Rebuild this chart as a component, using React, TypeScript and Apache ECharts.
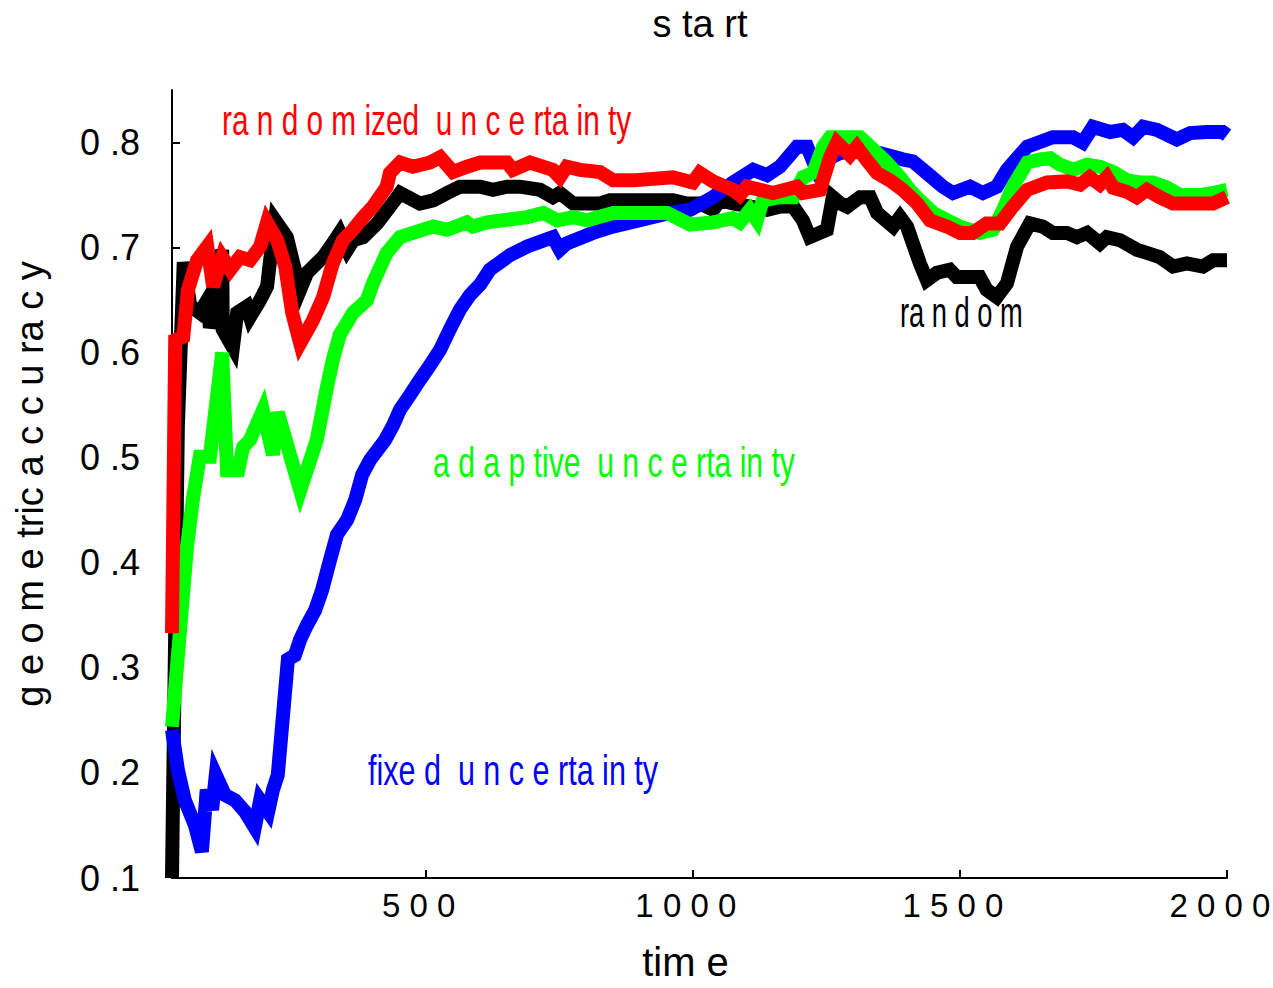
import React, { useEffect, useRef } from "react";
import * as echarts from "echarts";

// ---- data (time, geometric accuracy) ----
const fixedT = [25,36,49,68,81,90,100,107,124,143,162,180,190,205,214,223,237,242,255,265,278,293,306,321,334,353,368,381,396,424,439,452,471,489,508,527,545,564,583,602,620,639,658,690,738,751,764,813,850,901,957,995,1038,1075,1113,1139,1163,1195,1214,1232,1251,1276,1313,1350,1393,1412,1438,1468,1487,1519,1543,1569,1588,1626,1674,1712,1730,1749,1781,1805,1824,1843,1869,1906,1931,1962,1992,2000];
const fixedV = [0.241,0.203,0.174,0.150,0.125,0.184,0.165,0.198,0.179,0.174,0.163,0.148,0.174,0.163,0.184,0.198,0.279,0.308,0.312,0.327,0.341,0.355,0.374,0.403,0.427,0.441,0.460,0.484,0.498,0.517,0.531,0.546,0.560,0.574,0.588,0.603,0.622,0.641,0.655,0.665,0.679,0.686,0.693,0.701,0.710,0.698,0.704,0.714,0.720,0.726,0.733,0.736,0.748,0.762,0.774,0.769,0.777,0.796,0.796,0.774,0.784,0.790,0.793,0.790,0.784,0.782,0.771,0.758,0.752,0.758,0.752,0.758,0.774,0.796,0.805,0.805,0.800,0.815,0.810,0.812,0.805,0.815,0.812,0.803,0.809,0.810,0.810,0.807];

const adaptiveT = [25,40,53,64,77,96,119,128,149,158,171,195,214,223,265,296,315,326,339,364,390,401,427,452,476,514,540,577,588,615,690,720,746,776,802,851,952,995,1038,1075,1088,1107,1120,1131,1163,1188,1206,1225,1244,1257,1313,1332,1363,1388,1406,1425,1450,1476,1500,1537,1562,1581,1599,1626,1650,1669,1687,1712,1738,1762,1787,1813,1837,1861,1888,1912,1949,1974,2000];
const adaptiveV = [0.244,0.336,0.415,0.460,0.501,0.501,0.600,0.488,0.488,0.510,0.517,0.545,0.503,0.543,0.469,0.517,0.567,0.593,0.617,0.638,0.650,0.666,0.695,0.710,0.714,0.720,0.717,0.724,0.720,0.724,0.729,0.733,0.726,0.729,0.726,0.733,0.733,0.722,0.724,0.728,0.724,0.736,0.726,0.745,0.748,0.748,0.767,0.771,0.796,0.805,0.805,0.796,0.781,0.767,0.755,0.745,0.733,0.726,0.720,0.714,0.717,0.736,0.758,0.781,0.784,0.785,0.779,0.774,0.779,0.777,0.772,0.764,0.762,0.762,0.757,0.750,0.750,0.752,0.755];

const randomizedT = [25,31,46,55,72,91,102,119,134,152,171,190,203,222,237,250,265,289,308,326,345,364,383,401,427,433,452,476,508,527,551,577,602,652,663,695,738,751,764,789,826,851,888,963,1000,1013,1038,1075,1088,1101,1126,1150,1195,1206,1238,1257,1270,1294,1307,1326,1345,1369,1393,1420,1444,1476,1500,1524,1550,1575,1599,1626,1663,1700,1725,1743,1762,1775,1787,1813,1831,1850,1874,1899,1974,2000];
const randomizedV = [0.333,0.612,0.615,0.660,0.688,0.701,0.663,0.691,0.679,0.691,0.688,0.701,0.724,0.707,0.682,0.638,0.609,0.631,0.653,0.685,0.707,0.717,0.729,0.739,0.758,0.771,0.781,0.777,0.781,0.786,0.772,0.777,0.781,0.781,0.774,0.781,0.774,0.767,0.777,0.774,0.772,0.764,0.764,0.767,0.762,0.771,0.763,0.755,0.750,0.758,0.755,0.752,0.758,0.752,0.755,0.786,0.800,0.788,0.796,0.783,0.771,0.764,0.755,0.742,0.726,0.720,0.714,0.714,0.723,0.723,0.739,0.755,0.762,0.763,0.760,0.767,0.760,0.767,0.757,0.753,0.748,0.755,0.748,0.742,0.742,0.748];

const randomT = [25,36,47,59,77,91,96,109,119,120,139,147,165,171,190,203,208,218,240,252,265,278,296,308,326,339,353,364,383,409,433,452,489,514,540,564,602,626,652,676,714,738,751,776,826,845,963,989,1013,1038,1051,1075,1139,1163,1188,1206,1219,1251,1262,1276,1289,1313,1332,1345,1375,1388,1401,1425,1438,1457,1481,1494,1537,1550,1569,1588,1607,1631,1655,1674,1700,1719,1738,1762,1775,1800,1831,1850,1874,1899,1925,1955,1974,2000];
const randomV = [0.100,0.531,0.686,0.645,0.638,0.650,0.624,0.647,0.698,0.622,0.605,0.638,0.644,0.634,0.650,0.663,0.685,0.726,0.710,0.685,0.660,0.676,0.685,0.691,0.704,0.714,0.698,0.707,0.710,0.723,0.739,0.752,0.742,0.745,0.752,0.758,0.758,0.755,0.758,0.758,0.755,0.748,0.752,0.742,0.742,0.745,0.745,0.742,0.742,0.736,0.745,0.742,0.736,0.739,0.739,0.726,0.710,0.717,0.748,0.742,0.739,0.748,0.748,0.733,0.720,0.729,0.720,0.685,0.669,0.676,0.679,0.672,0.672,0.660,0.653,0.666,0.701,0.723,0.720,0.714,0.714,0.710,0.714,0.704,0.710,0.707,0.698,0.695,0.691,0.682,0.685,0.682,0.688,0.688];

const xTicks = [500, 1000, 1500, 2000];
const xTickLabels = ["5 0 0", "1 0 0 0", "1 5 0 0", "2 0 0 0"];
const yTicks = [0.1, 0.2, 0.3, 0.4, 0.5, 0.6, 0.7, 0.8];
const yTickLabels = ["0 .1", "0 .2", "0 .3", "0 .4", "0 .5", "0 .6", "0 .7", "0 .8"];

const titleText = "s ta rt";
const xName = "tim e";
const yName = "g e o m e tric a c c u ra c y";
const labelRandomized = "ra n d o m ized  u n c e rta in ty";
const labelAdaptive = "a d a p tive  u n c e rta in ty";
const labelFixed = "fixe d  u n c e rta in ty";
const labelRandom = "ra n d o m";

const FONT = "'Liberation Sans', Arial, sans-serif";

const zip = (t: number[], v: number[]) => t.map((x, i) => [x, v[i]]);

export default function App() {
  const ref = useRef<HTMLDivElement>(null);
  useEffect(() => {
    document.body.style.margin = "0";
    const chart = echarts.init(ref.current!, null, { renderer: "svg" });
    const lineSeries = (name: string, color: string, data: number[][], z: number) => ({
      type: "line",
      name,
      data,
      z,
      showSymbol: false,
      symbol: "none",
      lineStyle: { color, width: 14, join: "miter", miterLimit: 4, cap: "butt" },
    });
    const yFmt = (v: number) => {
      const i = yTicks.findIndex((t) => Math.abs(t - v) < 1e-6);
      return i >= 0 ? yTickLabels[i] : "";
    };
    const xFmt = (v: number) => {
      const i = xTicks.findIndex((t) => Math.abs(t - v) < 1e-6);
      return i >= 0 ? xTickLabels[i] : "";
    };
    const note = (text: string, color: string, left: number, top: number, scaleX: number) => ({
      type: "text",
      left,
      top,
      scaleX,
      style: { text, fill: color, font: `42px ${FONT}` },
    });
    chart.setOption({
      animation: false,
      backgroundColor: "#ffffff",
      title: {
        text: titleText,
        left: 695,
        top: 0,
        textAlign: "center",
        textStyle: { fontFamily: FONT, fontSize: 38, fontWeight: "normal", color: "#000" },
      },
      grid: { left: 172, right: 46, top: 90, bottom: 110, containLabel: false, outerBoundsMode: "none" },
      xAxis: {
        type: "value",
        min: 25,
        max: 2000,
        name: xName,
        nameLocation: "middle",
        nameGap: 64,
        nameTextStyle: { fontFamily: FONT, fontSize: 40, color: "#000", padding: [0, 28, 0, 0] },
        axisLine: { show: true, lineStyle: { color: "#000", width: 2 } },
        axisTick: { show: true, inside: true, length: 8, lineStyle: { color: "#000", width: 2 }, customValues: xTicks },
        axisLabel: { fontFamily: FONT, fontSize: 33, color: "#000", margin: 11, padding: [0, 14, 0, 0], formatter: xFmt, customValues: xTicks },
        splitLine: { show: false },
      },
      yAxis: {
        type: "value",
        min: 0.1,
        max: 0.85,
        name: yName,
        nameLocation: "middle",
        nameGap: 123,
        nameRotate: 90,
        nameTextStyle: { fontFamily: FONT, fontSize: 38, color: "#000" },
        axisLine: { show: true, lineStyle: { color: "#000", width: 2 } },
        axisTick: { show: true, inside: true, length: 8, lineStyle: { color: "#000", width: 2 }, customValues: yTicks },
        axisLabel: { fontFamily: FONT, fontSize: 36, color: "#000", margin: 32, padding: [0, 0, 10, 0], formatter: yFmt, customValues: yTicks },
        splitLine: { show: false },
      },
      series: [
        lineSeries("random", "#000000", zip(randomT, randomV), 2),
        lineSeries("fixed uncertainty", "#0000ff", zip(fixedT, fixedV), 3),
        lineSeries("adaptive uncertainty", "#00ff00", zip(adaptiveT, adaptiveV), 4),
        lineSeries("randomized uncertainty", "#ff0000", zip(randomizedT, randomizedV), 5),
      ],
      graphic: [
        note(labelRandomized, "#ff0000", 222, 100, 0.71),
        note(labelAdaptive, "#00ff00", 433, 442, 0.718),
        note(labelFixed, "#0000ff", 368, 750, 0.727),
        note(labelRandom, "#000000", 900, 292, 0.65),
      ],
    });
    return () => chart.dispose();
  }, []);
  return <div ref={ref} style={{ width: 1273, height: 988 }} />;
}
